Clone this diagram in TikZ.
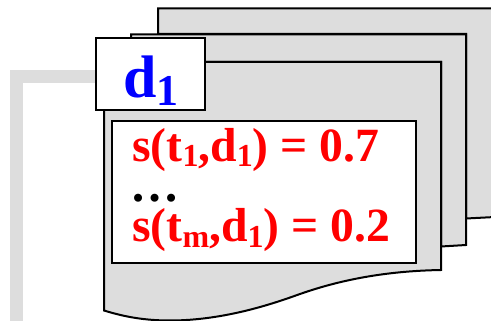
\documentclass[tikz,border=0pt]{standalone}
\usepackage{xcolor}
\usepackage{fontspec}
\setmainfont{Liberation Serif}
\usepackage{tikz}
\usetikzlibrary{positioning, backgrounds}
\definecolor{pagegrey}{HTML}{DDDDDD}
\newcommand{\lowidx}[2]{\raisebox{-0.12em}{\fontsize{#1}{#1}\selectfont #2}}
\begin{document}
\begin{tikzpicture}[
  x=1pt, y=-1pt,
  pagesheet/.style={draw=black, line width=2pt, fill=pagegrey, line join=miter},
  whitebox/.style={draw=black, line width=2pt, fill=white, inner sep=0pt, outer sep=0pt, anchor=north west},
  link/.style={draw=pagegrey, line width=13pt},
  score/.style={font=\fontsize{47.7}{48}\selectfont\bfseries, text=red, inner sep=0pt, anchor=base west}
]
\useasboundingbox (0,0) rectangle (491,321);
% pages, back to front
\path[pagesheet] (158,34) -- (158,8.5) -- (495,8.5) -- (495,217) -- (466,218.5) -- (466,34) -- cycle;
\path[pagesheet] (131,62) -- (131,34.5) -- (466,34.5) -- (466,245) -- (441,246.5) -- (441,62) -- cycle;
\path[pagesheet] (104,62) -- (441,62) -- (441,270)
  .. controls (385,271) and (340,280) .. (300,294)
  .. controls (275,303) and (225,320.5) .. (170,320.5)
  .. controls (145,320.5) and (125,317) .. (104,310.5) -- cycle;
% label box and score box
\node[whitebox, minimum width=109.5pt, minimum height=71.5pt] (doc) at (95.5,38.5) {};
\node[font=\fontsize{60}{60}\selectfont\bfseries, text=blue, inner sep=0pt, anchor=base west] (doclabel) at (123,98) {d\lowidx{44}{1}};
\node[whitebox, minimum width=304.5pt, minimum height=142pt] (scores) at (111.5,121) {};
\coordinate (corner) at (16.5,76.5);
\coordinate (foot) at (16.5,325);
\node[score] (first) at (132,161) {s(t\lowidx{32}{1},d\lowidx{32}{1}) = 0.7};
\node[score, text=black] (dots) at (130,202) {\fontsize{49}{49}\selectfont …};
\node[score] (last) at (132,242) {s(t\lowidx{32}{m},d\lowidx{32}{1}) = 0.2};
\begin{scope}[on background layer]
\draw[link] (doc.west |- corner) -- (corner) -- (foot);
\end{scope}
\end{tikzpicture}
\end{document}
